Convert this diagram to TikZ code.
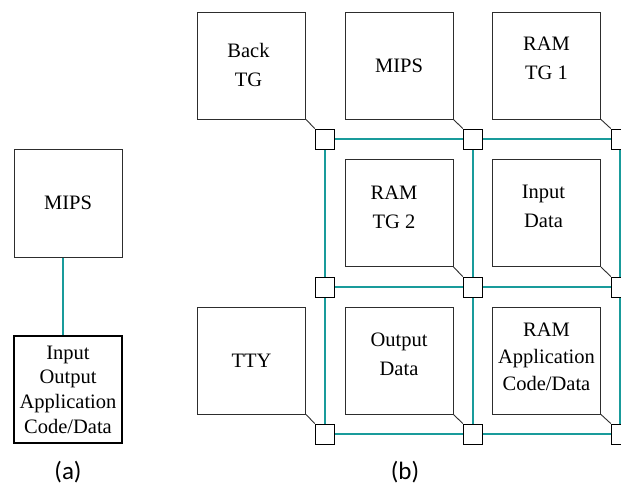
\documentclass[tikz,border=0pt]{standalone}
\usepackage{fontspec}
\setmainfont{Liberation Serif}
\newfontfamily\boxfont{Liberation Serif}
\newfontfamily\capfont{Carlito}
\usetikzlibrary{backgrounds}
\definecolor{linkteal}{RGB}{25,155,155}
\definecolor{edgegray}{RGB}{45,45,45}
\begin{document}
\begin{tikzpicture}[x=1pt,y=-1pt,
  box/.style={draw=edgegray,line width=1pt,minimum width=108pt,minimum height=107pt,inner sep=0pt},
  txt/.style={font=\boxfont\fontsize{20.5}{29}\selectfont,align=center,inner sep=0pt},
  txtthree/.style={font=\boxfont\fontsize{20.5}{27}\selectfont,align=center,inner sep=0pt},
  txtfour/.style={font=\boxfont\fontsize{20.5}{24.7}\selectfont,align=center,inner sep=0pt},
  router/.style={draw=black,fill=white,line width=1pt,minimum width=19.5pt,minimum height=20pt,inner sep=0pt},
  link/.style={linkteal,line width=2pt},
  tap/.style={edgegray,line width=0.9pt},
  caption/.style={font=\capfont\fontsize{25}{30}\selectfont,inner sep=0pt}]
\useasboundingbox (0,0) rectangle (621,488);

% ---------- (a) ----------
\node[box,minimum height=108pt] (amips) at (68,203) {};
\node[txt] (amipst) at (amips.center) {MIPS};
\node[box,line width=1.8pt,draw=black] (amem) at (68,389.5) {};
\node[txtfour] (amemt) at (amem.center) {Input\\Output\\Application\\Code/Data};
\coordinate (aup) at ([xshift=-5pt]amips.south);
\coordinate (adn) at ([xshift=-5pt]amem.north);
\draw[link] (aup) -- (adn);
\node[caption,anchor=base] (capa) at (68,479) {(a)};

% ---------- (b) routers ----------
\foreach \r/\y in {1/139,2/287,3/434}{
  \foreach \c/\x in {1/325,2/473,3/621}{
    \node[router] (r\r\c) at (\x,\y) {};
  }
}
\begin{scope}[on background layer]
  \draw[link] (r11.center) -- (r13.center);
  \draw[link] (r21.center) -- (r23.center);
  \draw[link] (r31.center) -- (r33.center);
  \draw[link] (r11.center) -- (r31.center);
  \draw[link] (r12.center) -- (r32.center);
  \draw[link] ([xshift=-1pt]r13.center) -- ([xshift=-1pt]r33.center);
\end{scope}

% ---------- (b) boxes ----------
\node[box] (backtg) at (251.5,65.5) {};
\node[box] (bmips)  at (399,65.5) {};
\node[box] (ramtg1) at (546.5,65.5) {};
\node[box] (ramtg2) at (399,213) {};
\node[box] (indata) at (546.5,213) {};
\node[box] (tty)    at (251.5,360.5) {};
\node[box] (outdata) at (399,360.5) {};
\node[box] (ramapp) at (546.5,360.5) {};

\node[txt] (backtgt) at ([xshift=-3pt,yshift=1pt]backtg.center) {Back\\TG};
\node[txt] (bmipst)  at (bmips.center) {MIPS};
\node[txt] (ramtg1t) at ([yshift=7pt]ramtg1.center) {RAM\\TG 1};
\node[txt] (ramtg2t) at ([xshift=-5pt,yshift=6pt]ramtg2.center) {RAM\\TG 2};
\node[txt] (indatat) at ([xshift=-3pt,yshift=7pt]indata.center) {Input\\Data};
\node[txt] (ttyt)    at (tty.center) {TTY};
\node[txt] (outdatat) at ([yshift=6pt]outdata.center) {Output\\Data};
\node[txtthree] (ramappt) at ([yshift=4pt]ramapp.center) {RAM\\Application\\Code/Data};

% taps from boxes to routers
\draw[tap] (backtg.south east) -- (r11.north west);
\draw[tap] (bmips.south east) -- (r12.north west);
\draw[tap] (ramtg1.south east) -- (r13.north west);
\draw[tap] (ramtg2.south east) -- (r22.north west);
\draw[tap] (indata.south east) -- (r23.north west);
\draw[tap] (tty.south east) -- (r31.north west);
\draw[tap] (outdata.south east) -- (r32.north west);
\draw[tap] (ramapp.south east) -- (r33.north west);

\node[caption,anchor=base] (capb) at (405,479) {(b)};
\end{tikzpicture}
\end{document}
